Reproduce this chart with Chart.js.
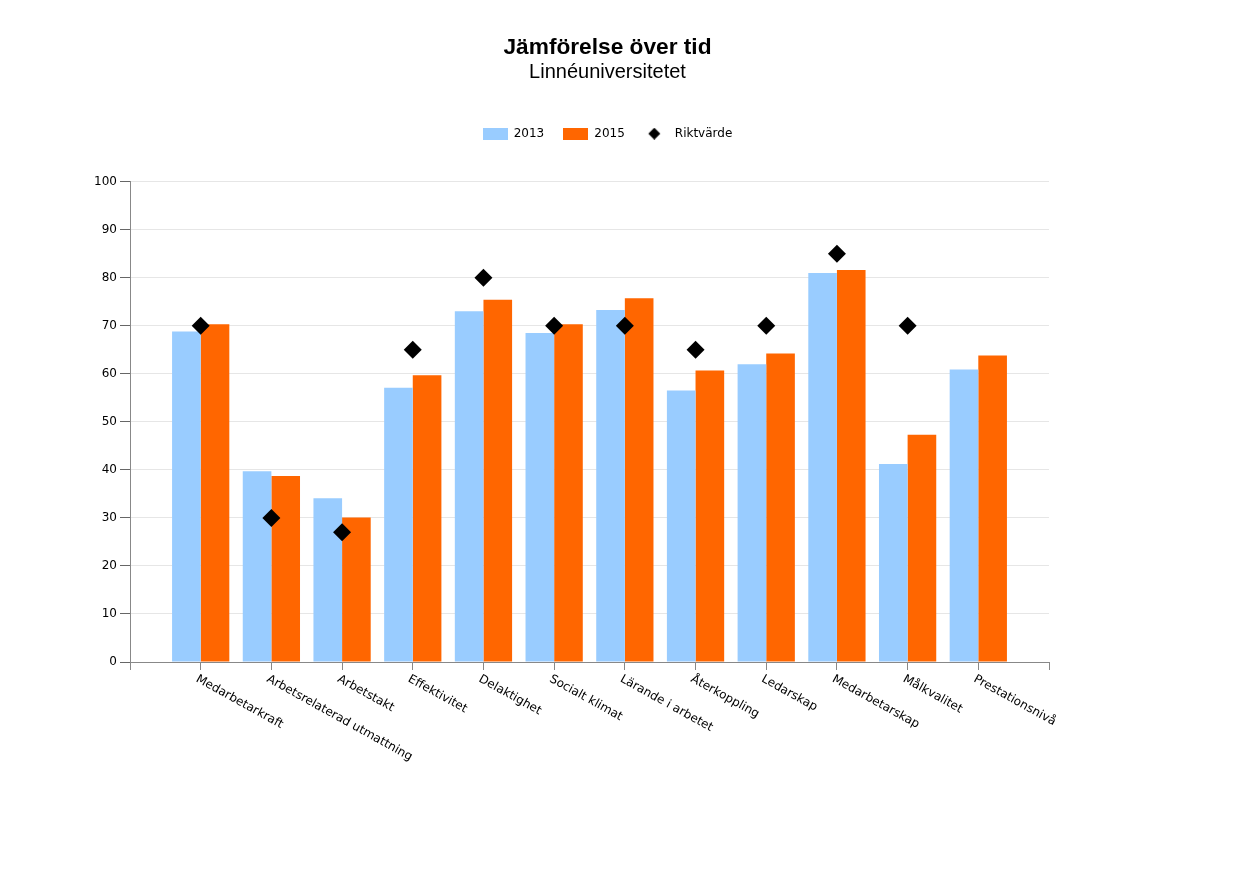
<!DOCTYPE html>
<html>
<head>
<meta charset="utf-8">
<script src="https://cdn.jsdelivr.net/npm/chart.js@4/dist/chart.umd.min.js"></script>
<style>
  body { margin: 0; background: #fff; }
  #wrap { position: relative; width: 1250px; height: 872px; }
</style>
</head>
<body>
<div id="wrap"><canvas id="chart"></canvas></div>
<script>
const categories = ["Medarbetarkraft", "Arbetsrelaterad utmattning", "Arbetstakt", "Effektivitet",
  "Delaktighet", "Socialt klimat", "Lärande i arbetet", "Återkoppling", "Ledarskap",
  "Medarbetarskap", "Målkvalitet", "Prestationsnivå"];
const values2013 = [68.8, 39.7, 34.1, 57.1, 73.0, 68.5, 73.3, 56.5, 62.0, 81.0, 41.2, 60.9];
const values2015 = [70.3, 38.7, 30.1, 59.7, 75.4, 70.3, 75.7, 60.7, 64.2, 81.6, 47.3, 63.8];
const riktvarde = [70, 30, 27, 65, 80, 70, 70, 65, 70, 85, 70, null];
const yTicks = [0, 10, 20, 30, 40, 50, 60, 70, 80, 90, 100];

const BLUE = "#99CCFF";
const ORANGE = "#FF6600";

// empty slot at each end so the groups sit on ticks 1..12 of 0..13
const pad = (arr) => [null].concat(arr, [null]);
const labels = [""].concat(categories, [""]);

function icon(draw) {
  const c = document.createElement("canvas");
  c.width = 25; c.height = 12;
  draw(c.getContext("2d"));
  return c;
}
const legendIcons = [
  icon((g) => { g.fillStyle = BLUE; g.fillRect(0, 0, 25, 12); }),
  icon((g) => { g.fillStyle = ORANGE; g.fillRect(0, 0, 25, 12); }),
  icon((g) => {
    g.fillStyle = "#000";
    g.beginPath();
    g.moveTo(10.5, 0); g.lineTo(16.5, 6); g.lineTo(10.5, 12); g.lineTo(4.5, 6);
    g.closePath(); g.fill();
  }),
];

// category labels go down to the right from the tick
const slantedLabels = {
  id: "slantedLabels",
  afterDraw(chart) {
    const x = chart.scales.x;
    const ctx = chart.ctx;
    ctx.save();
    ctx.font = "12px 'DejaVu Sans'";
    ctx.fillStyle = "#000";
    ctx.textAlign = "left";
    ctx.textBaseline = "top";
    categories.forEach((name, i) => {
      ctx.save();
      ctx.translate(x.getPixelForValue(i + 1) - 1, x.top + 11);
      ctx.rotate(29 * Math.PI / 180);
      ctx.fillText(name, 0, 0);
      ctx.restore();
    });
    ctx.restore();
  },
};

// extra room under the legend
const legendGap = {
  id: "legendGap",
  beforeLayout(chart) {
    const lg = chart.legend;
    if (lg && !lg._gapped) {
      const fit = lg.fit;
      lg.fit = function () { fit.call(this); this.height += 32; };
      lg._gapped = true;
    }
  },
};

Chart.defaults.color = "#000";
Chart.defaults.font.family = "'DejaVu Sans'";
Chart.defaults.font.size = 12;

new Chart(document.getElementById("chart"), {
  type: "bar",
  data: {
    labels: labels,
    datasets: [
      {
        label: "2013",
        data: pad(values2013),
        backgroundColor: BLUE,
        categoryPercentage: 0.81,
        barPercentage: 1.0,
        order: 2,
      },
      {
        label: "2015",
        data: pad(values2015),
        backgroundColor: ORANGE,
        categoryPercentage: 0.81,
        barPercentage: 1.0,
        order: 2,
      },
      {
        type: "line",
        label: "Riktvärde",
        data: pad(riktvarde),
        showLine: false,
        pointStyle: "rectRot",
        pointRadius: 9,
        pointHoverRadius: 9,
        pointBorderWidth: 0,
        backgroundColor: "#000",
        borderColor: "#000",
        order: 1,
      },
    ],
  },
  options: {
    responsive: true,
    maintainAspectRatio: false,
    animation: false,
    layout: { padding: { top: 24, left: 20, right: 55, bottom: 0 } },
    scales: {
      x: {
        offset: false,
        grid: {
          offset: false,
          drawOnChartArea: false,
          tickLength: 8,
          tickColor: "#888",
        },
        border: { color: "#888" },
        ticks: { display: false, autoSkip: false },
        afterFit(s) { s.height = 210; },
      },
      y: {
        min: 0,
        max: 100,
        afterBuildTicks(s) { s.ticks = yTicks.map((v) => ({ value: v })); },
        grid: { color: "#e6e6e6", tickColor: "#666", tickLength: 10 },
        border: { color: "#888" },
        ticks: { padding: 3, font: { size: 12 } },
        afterFit(s) { s.width = 110; },
      },
      y2: {
        position: "right",
        display: true,
        grid: { display: false, drawTicks: false },
        border: { display: false },
        ticks: { display: false },
        afterFit(s) { s.width = 146; },
      },
    },
    plugins: {
      title: {
        display: true,
        text: "Jämförelse över tid",
        font: { family: "'Liberation Sans', Arial", size: 22.7, weight: "bold", lineHeight: 1.2 },
        color: "#000",
        padding: { top: 10, bottom: 0 },
      },
      subtitle: {
        display: true,
        text: "Linnéuniversitetet",
        font: { family: "'Liberation Sans', Arial", size: 20, lineHeight: 1.1 },
        color: "#000",
        padding: { top: 0, bottom: 25.4 },
      },
      legend: {
        display: true,
        position: "top",
        labels: {
          usePointStyle: true,
          pointStyleWidth: 25,
          boxHeight: 12,
          padding: 19,
          font: { size: 12 },
          color: "#000",
          sort: (a, b) => a.datasetIndex - b.datasetIndex,
          generateLabels(chart) {
            const items = Chart.defaults.plugins.legend.labels.generateLabels(chart);
            items.forEach((it) => { it.pointStyle = legendIcons[it.datasetIndex]; });
            return items;
          },
        },
      },
      tooltip: { enabled: false },
    },
  },
  plugins: [slantedLabels, legendGap],
});
</script>
</body>
</html>
